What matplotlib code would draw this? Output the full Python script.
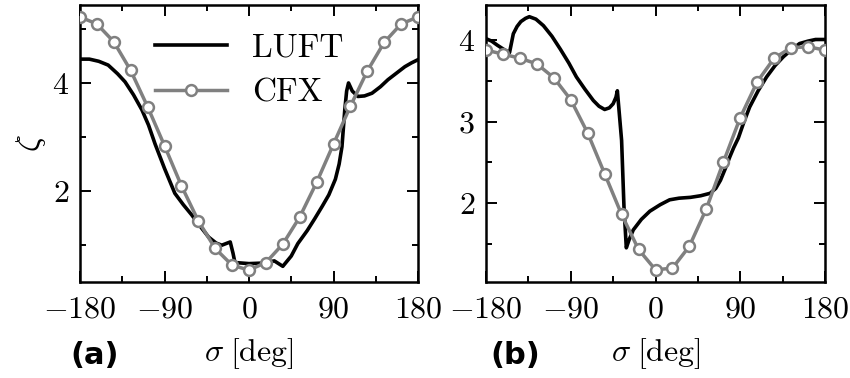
import numpy as np
import matplotlib
matplotlib.use("Agg")
import matplotlib.pyplot as plt

plt.rcParams['font.family'] = 'serif'
plt.rcParams['font.serif'] = ['cmr10']
plt.rcParams['mathtext.fontset'] = 'cm'
plt.rcParams['axes.formatter.use_mathtext'] = True

# CFX samples every 18 deg
sigma_cfx = np.arange(-180, 181, 18)
cfx_a = [5.22, 5.09, 4.76, 4.23, 3.56, 2.84, 2.10, 1.45, 0.94, 0.63, 0.54,
         0.68, 1.02, 1.52, 2.16, 2.87, 3.57, 4.22, 4.75, 5.09, 5.22]
cfx_b = [3.88, 3.83, 3.78, 3.71, 3.54, 3.27, 2.86, 2.36, 1.86, 1.43, 1.18,
         1.20, 1.47, 1.93, 2.50, 3.05, 3.49, 3.78, 3.91, 3.92, 3.88]

# LUFT curves
sigma_luft_a = [-180, -170, -160, -150, -140, -132, -123, -114, -107, -100, -90,
                -79, -70, -61, -52, -43, -35, -29, -20, -17, -15, 0, 15, 27, 36,
                45, 52, 62, 70, 78, 85, 92, 96, 99, 102, 104, 106, 110, 116, 123,
                131, 140, 148, 157, 166, 173, 180]
luft_a = [4.44, 4.44, 4.40, 4.33, 4.17, 4.02, 3.78, 3.50, 3.22, 2.87, 2.42,
          1.96, 1.75, 1.56, 1.35, 1.15, 1.04, 1.00, 1.06, 0.85, 0.68, 0.66, 0.67,
          0.71, 0.61, 0.80, 1.03, 1.27, 1.49, 1.72, 1.93, 2.22, 2.50, 2.82, 3.50,
          3.85, 4.00, 3.85, 3.75, 3.76, 3.81, 3.93, 4.06, 4.18, 4.30, 4.37, 4.43]

sigma_luft_b = [-180, -174, -168, -160, -155, -151, -147, -143, -138, -134, -127,
                -119, -110, -101, -92, -84, -75, -66, -60, -54, -49, -45, -42,
                -40.5, -36, -33.5, -31, -28, -23.6, -15, -6, 5, 15, 25, 37, 48,
                58, 64, 69, 74, 79, 83, 88, 94, 100, 109, 118, 127, 136, 145, 153,
                162, 170, 180]
luft_b = [4.02, 3.99, 3.94, 3.88, 3.85, 4.08, 4.17, 4.23, 4.27, 4.29, 4.26,
          4.18, 4.05, 3.89, 3.72, 3.55, 3.40, 3.26, 3.19, 3.15, 3.17, 3.22, 3.30,
          3.38, 2.77, 1.96, 1.45, 1.55, 1.67, 1.80, 1.90, 1.98, 2.04, 2.06, 2.07,
          2.09, 2.12, 2.18, 2.28, 2.42, 2.57, 2.68, 2.80, 3.00, 3.18, 3.38, 3.55,
          3.69, 3.80, 3.89, 3.96, 3.99, 4.01, 4.01]

xticks = [-180, -90, 0, 90, 180]
xticklabels = [r'$-180$', r'$-90$', r'$0$', r'$90$', r'$180$']

fig = plt.figure(figsize=(8.5, 3.78), dpi=100)
axa = fig.add_axes([80/850, 96/378, 338/850, 277.5/378])
axb = fig.add_axes([486/850, 96/378, 339/850, 277.5/378])

for ax, sl, yl, yc in [(axa, sigma_luft_a, luft_a, cfx_a), (axb, sigma_luft_b, luft_b, cfx_b)]:
    ax.plot(sl, yl, color='black', lw=2.6, label='LUFT', zorder=3)
    ax.plot(sigma_cfx, yc, color='#808080', lw=2.5, marker='o', ms=7.8,
            mfc='white', mec='#808080', mew=1.8, label='CFX', zorder=4)
    ax.set_xlim(-180, 180)
    ax.set_xticks(xticks)
    ax.set_xticklabels(xticklabels)
    ax.set_xticks(np.arange(-135, 180, 90), minor=True)
    ax.tick_params(which='both', direction='in', top=True, right=True, width=1.4,
                   labelsize=23)
    ax.tick_params(axis='x', pad=10)
    ax.tick_params(axis='y', pad=8)
    ax.tick_params(which='major', length=8)
    ax.tick_params(which='minor', length=4.5)
    for s in ax.spines.values():
        s.set_linewidth(1.8)
    ax.set_xlabel(r'$\sigma\;[\mathrm{deg}]$', fontsize=23, labelpad=9)

axa.set_ylim(0.32, 5.45)
axa.set_yticks([2, 4])
axa.set_yticklabels([r'$2$', r'$4$'])
axa.set_yticks([1, 3, 5], minor=True)
axa.set_ylabel(r'$\zeta$', fontsize=24, labelpad=3)

axb.set_ylim(1.03, 4.44)
axb.set_yticks([2, 3, 4])
axb.set_yticklabels([r'$2$', r'$3$', r'$4$'])
axb.set_yticks([1.5, 2.5, 3.5], minor=True)

axa.legend(loc='upper left', bbox_to_anchor=(0.222, 0.895), frameon=False, fontsize=24,
           handlelength=2.16, handletextpad=0.75, labelspacing=0.45, borderpad=0,
           borderaxespad=0)

fig.text(70/850, 1 - 355/378, '(a)', family='DejaVu Sans', weight='bold', fontsize=22,
         va='center', ha='left')
fig.text(490/850, 1 - 355/378, '(b)', family='DejaVu Sans', weight='bold', fontsize=22,
         va='center', ha='left')

fig.savefig('out.png', dpi=100)
